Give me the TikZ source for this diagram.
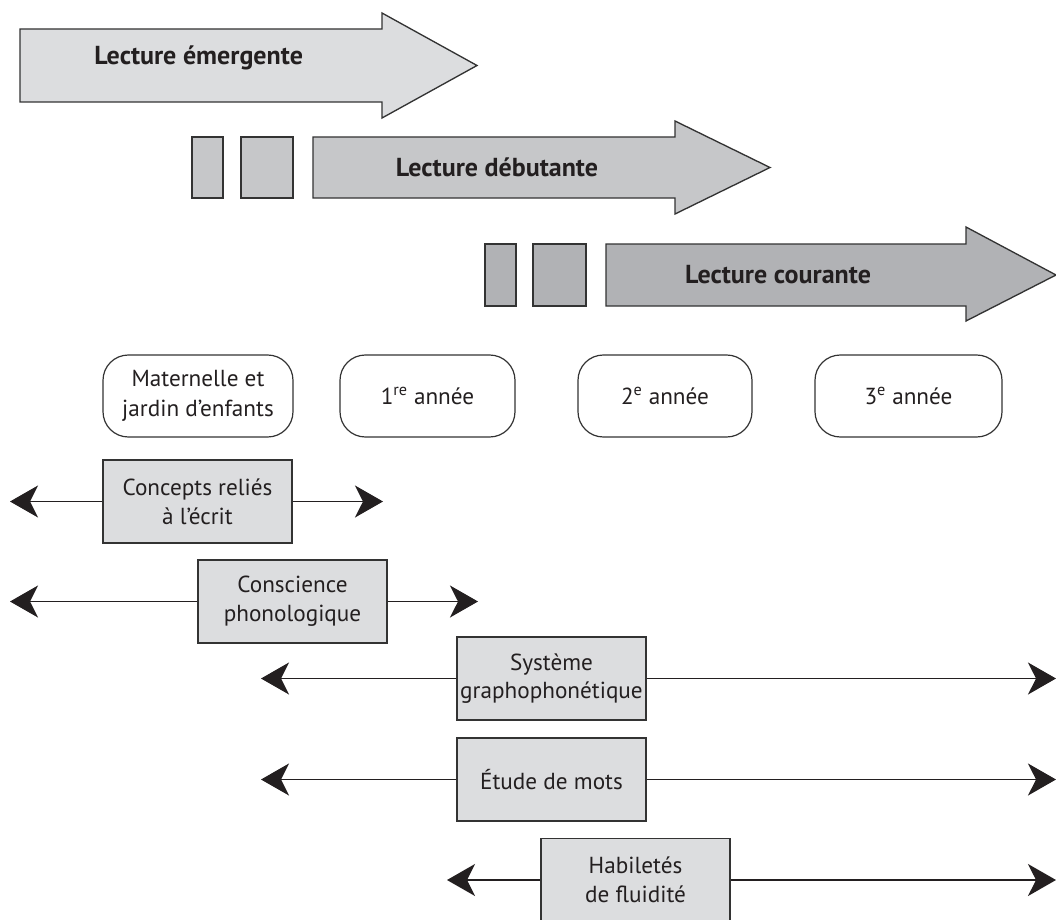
\documentclass[tikz,border=0pt]{standalone}
\usepackage{fontspec}
\setmainfont{PT Sans}
\usetikzlibrary{arrows.meta}
\definecolor{ink}{HTML}{231F20}
\definecolor{edge}{HTML}{333333}
\definecolor{fillA}{HTML}{DCDDDF}
\definecolor{fillB}{HTML}{C6C7C9}
\definecolor{fillC}{HTML}{B1B2B5}
\begin{document}
\begin{tikzpicture}[x=0.75pt,y=-0.75pt,
  bigarrow/.style={draw=edge, line width=1pt, line join=miter},
  stub/.style={draw=edge, line width=1pt},
  title/.style={font=\bfseries\fontsize{19.5}{23}\selectfont, text=ink, inner sep=0pt},
  grade/.style={draw=edge, line width=0.9pt, fill=white, rounded corners=19pt,
    minimum height=61.5pt, align=center, inner sep=0pt,
    font=\fontsize{17.4}{22.5}\selectfont, text=ink},
  skill/.style={draw=edge, line width=1pt, fill=fillA, minimum width=141.75pt,
    minimum height=62.25pt, align=center, inner sep=0pt,
    font=\fontsize{17.4}{21.5}\selectfont, text=ink},
  span/.style={draw=ink, line width=0.9pt,
    -{Stealth[length=21pt,width=24pt,inset=6pt]}},
]
\useasboundingbox (0,0) rectangle (1056,920);

% --- Lecture émergente
\path[bigarrow, fill=fillA] (20,29) -- (382,29) -- (382,13) -- (477,65.5)
  -- (382,118) -- (382,102) -- (20,102) -- cycle;
\node[title, anchor=west] (emergente) at (94,58) {Lecture émergente};

% --- Lecture débutante
\path[stub, fill=fillB] (192,137) rectangle (223,198);
\path[stub, fill=fillB] (241,137) rectangle (293,198);
\path[bigarrow, fill=fillB] (313,137) -- (675,137) -- (675,121) -- (770,167.5)
  -- (675,214) -- (675,198) -- (313,198) -- cycle;
\node[title] (debutante) at (497,167) {Lecture débutante};

% --- Lecture courante
\path[stub, fill=fillC] (485,244) rectangle (516,306);
\path[stub, fill=fillC] (533,244) rectangle (586,306);
\path[bigarrow, fill=fillC] (606,244) -- (966,244) -- (966,227) -- (1056,275)
  -- (966,321) -- (966,306) -- (606,306) -- cycle;
\node[title] (courante) at (778,275) {Lecture courante};

% --- grades
\node[grade, minimum width=142.5pt] (mat) at (198,396) {Maternelle et\\jardin d’enfants};
\node[grade, minimum width=131.25pt] (g1) at (427.5,396) {1\textsuperscript{re} année};
\node[grade, minimum width=130.5pt] (g2) at (665,396) {2\textsuperscript{e} année};
\node[grade, minimum width=140.25pt] (g3) at (908.5,396) {3\textsuperscript{e} année};

% --- arrow ends
\coordinate (c1L) at (10,501.5);   \coordinate (c1R) at (383,501.5);
\coordinate (c2L) at (10,601.5);   \coordinate (c2R) at (478,601.5);
\coordinate (c3L) at (261,678.5);  \coordinate (c3R) at (1056,678.5);
\coordinate (c4L) at (261,779.5);  \coordinate (c4R) at (1056,779.5);
\coordinate (c5L) at (447,880);    \coordinate (c5R) at (1056,880);

% --- skills
\node[skill] (concepts) at (197.5,501.5) {Concepts reliés\\à l’écrit};
\node[skill] (conscience) at (292.5,601.5) {Conscience\\phonologique};
\node[skill] (systeme) at (551.5,678.5) {Système\\graphophonétique};
\node[skill] (etude) at (551.5,779.5) {Étude de mots};
\node[skill] (habiletes) at (635.5,880) {Habiletés\\de fluidité};

\draw[span] (concepts.west) -- (c1L);
\draw[span] (concepts.east) -- (c1R);
\draw[span] (conscience.west) -- (c2L);
\draw[span] (conscience.east) -- (c2R);
\draw[span] (systeme.west) -- (c3L);
\draw[span] (systeme.east) -- (c3R);
\draw[span] (etude.west) -- (c4L);
\draw[span] (etude.east) -- (c4R);
\draw[span] (habiletes.west) -- (c5L);
\draw[span] (habiletes.east) -- (c5R);
\end{tikzpicture}
\end{document}
